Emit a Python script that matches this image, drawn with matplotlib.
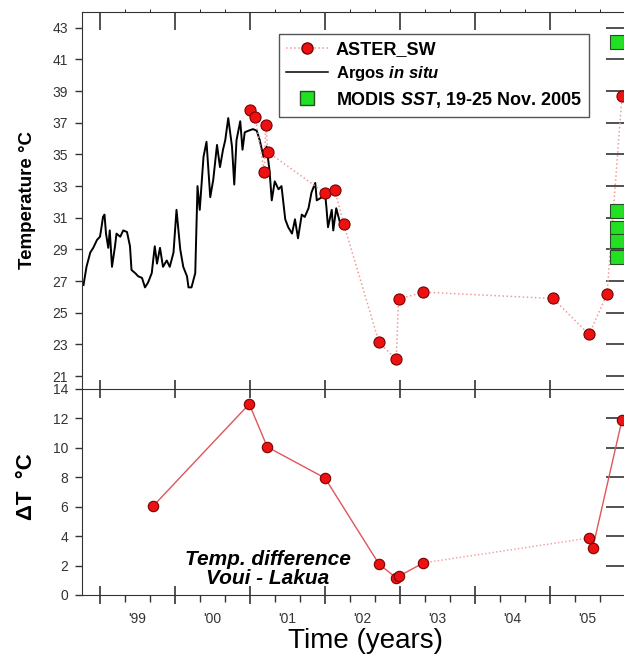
import matplotlib
matplotlib.use("Agg")
import matplotlib.pyplot as plt
from matplotlib.lines import Line2D
import numpy as np

plt.rcParams["font.family"] = ["Liberation Sans", "DejaVu Sans"]
plt.rcParams["mathtext.fontset"] = "custom"
plt.rcParams["mathtext.it"] = "Liberation Sans:italic:bold"
plt.rcParams["mathtext.rm"] = "Liberation Sans:bold"

# Argos in situ record (decimal year, deg C)
argos_t = [1998.78, 1998.82, 1998.87, 1998.91, 1998.96, 1999.00, 1999.02, 1999.04,
           1999.06, 1999.08, 1999.11, 1999.13, 1999.16, 1999.20, 1999.22, 1999.27,
           1999.31, 1999.36, 1999.40, 1999.42, 1999.47, 1999.51, 1999.56, 1999.60,
           1999.64, 1999.69, 1999.73, 1999.76, 1999.80, 1999.84, 1999.89, 1999.93,
           1999.98, 2000.02, 2000.07, 2000.11, 2000.16, 2000.18, 2000.22, 2000.27,
           2000.30, 2000.33, 2000.38, 2000.42, 2000.47, 2000.51, 2000.56, 2000.60,
           2000.64, 2000.67, 2000.71, 2000.76, 2000.79, 2000.82, 2000.87, 2000.90,
           2000.93, 2000.98, 2001.04, 2001.09, 2001.13, 2001.18, 2001.22, 2001.26,
           2001.29, 2001.33, 2001.38, 2001.42, 2001.47, 2001.51, 2001.56, 2001.60,
           2001.64, 2001.69, 2001.73, 2001.78, 2001.82, 2001.87, 2001.89, 2001.96,
           2002.00, 2002.02, 2002.04, 2002.09, 2002.11, 2002.15, 2002.18, 2002.20]
argos_temp = [26.75, 27.9, 28.8, 29.1, 29.6, 29.8, 30.4, 31.05,
              31.2, 30.0, 29.1, 30.2, 27.9, 29.2, 30.0, 29.8,
              30.2, 30.1, 29.2, 27.7, 27.5, 27.3, 27.2, 26.6,
              26.9, 27.5, 29.2, 28.1, 29.1, 27.9, 28.3, 27.9,
              28.8, 31.5, 29.0, 27.9, 27.3, 26.6, 26.6, 27.5,
              33.0, 31.5, 34.85, 35.8, 32.3, 33.4, 35.6, 34.2,
              35.3, 35.9, 37.3, 35.5, 33.1, 35.9, 37.1, 35.3,
              36.4, 36.5, 36.6, 36.5, 35.9, 34.85, 35.5, 34.0,
              32.1, 33.3, 32.8, 33.0, 30.9, 30.4, 30.0, 30.9,
              29.7, 31.2, 31.05, 31.6, 32.6, 33.2, 32.1, 32.3,
              32.6, 31.6, 30.4, 31.5, 30.2, 31.6, 31.05, 30.7]

# ASTER_SW surface temperature
aster_t = [2001.00, 2001.07, 2001.19, 2001.21, 2001.24, 2002.00, 2002.13, 2002.25,
           2002.72, 2002.95, 2002.98, 2003.31, 2005.04, 2005.52, 2005.76, 2005.96]
aster_temp = [37.8, 37.37, 33.9, 36.86, 35.15, 32.56, 32.75, 30.6,
              23.13, 22.05, 25.85, 26.3, 25.9, 23.63, 26.16, 38.7]

# MODIS SST, 19-25 Nov. 2005
modis_t = [2005.89, 2005.89, 2005.89, 2005.89, 2005.89]
modis_temp = [42.1, 31.4, 30.35, 29.5, 28.5]

# temperature difference Voui - Lakua
dt_t = [1999.71, 2000.99, 2001.23, 2002.00, 2002.72, 2002.95, 2002.99, 2003.31,
        2005.52, 2005.57, 2005.96]
dt_val = [6.05, 12.98, 10.06, 7.95, 2.1, 1.16, 1.29, 2.18, 3.87, 3.2, 11.9]

years = [1999, 2000, 2001, 2002, 2003, 2004, 2005, 2006]
year_labels = ["'99", "'00", "'01", "'02", "'03", "'04", "'05"]

RED = "#ee1111"
RED_EDGE = "#7a0000"
DOT = "#f29a9a"
LINE_RED = "#e0555a"
GREEN = "#22e022"
SPINE = "#333333"
TICKLAB = "#333333"

fig = plt.figure(figsize=(6.24, 6.56), dpi=100)
left, right = 82 / 624, 625 / 624
ax = fig.add_axes([left, 1 - 389 / 656, right - left, (389 - 12) / 656])
ax2 = fig.add_axes([left, 1 - 595 / 656, right - left, (595 - 389) / 656], sharex=ax)

xlim = (1998.76, 2006.0)

# ---- top panel
ax.plot(argos_t, argos_temp, color="black", lw=1.4, zorder=2)
ax.plot(aster_t, aster_temp, ls=":", color=DOT, lw=1.1, zorder=3)
ax.plot(aster_t, aster_temp, ls="none", marker="o", ms=8, mfc=RED, mec=RED_EDGE,
        mew=0.8, zorder=4)
ax.plot(modis_t, modis_temp, ls="none", marker="s", ms=10, mfc=GREEN, mec="#2a4a2a",
        mew=0.8, zorder=5)

ax.set_yticks(range(21, 44, 2))
ax.set_xticks(years)
ax.xaxis.set_ticks_position("top")
ax.tick_params(axis="x", which="major", direction="in", length=13, width=1.2,
               color=SPINE, labeltop=False, labelbottom=False)
ax.tick_params(axis="y", direction="out", length=5, width=1, color=SPINE,
               labelsize=10, labelcolor=TICKLAB, pad=5)
for s in ax.spines.values():
    s.set_color(SPINE)
ax.spines["bottom"].set_visible(False)

ry = ax.secondary_yaxis("right")
ry.set_yticks(range(21, 44, 2))
ry.tick_params(direction="in", length=14, width=1.2, color=SPINE, labelright=False)

handles = [
    Line2D([], [], ls=":", color=DOT, lw=1.1, marker="o", ms=8, mfc=RED, mec=RED_EDGE),
    Line2D([], [], color="black", lw=1.1),
    Line2D([], [], ls="none", marker="s", ms=10, mfc=GREEN, mec="#2a4a2a"),
]
labels = ["ASTER_SW", r"Argos $\mathit{in\ situ}$", r"MODIS $\mathit{SST}$, 19-25 Nov. 2005"]
leg = ax.legend(handles, labels, loc="upper left", bbox_to_anchor=(0.363, 0.942),
                borderaxespad=0, fancybox=False, framealpha=1, edgecolor="#555555",
                prop={"size": 13, "weight": "bold"}, borderpad=0.4,
                handlelength=2.3, handletextpad=0.45, labelspacing=0.35)
leg.get_frame().set_linewidth(1.0)
leg.get_texts()[1].set_fontsize(12)

# ---- bottom panel
ax2.plot(dt_t[:8], dt_val[:8], color=LINE_RED, lw=1.0, zorder=2)
ax2.plot(dt_t[7:9], dt_val[7:9], color=DOT, lw=1.0, ls=":", zorder=2)
ax2.plot(dt_t[8:], dt_val[8:], color=LINE_RED, lw=1.0, zorder=2)
ax2.plot(dt_t, dt_val, ls="none", marker="o", ms=7.5, mfc=RED, mec=RED_EDGE,
         mew=0.8, zorder=4)

ax2.set_yticks(range(0, 15, 2))
ax2.set_xticks(years)
ax2.set_xticks(np.arange(1998 + 2 / 3, 2006.01, 1 / 3), minor=True)
ax2.tick_params(axis="x", which="major", direction="inout", length=13, width=1.2,
                color=SPINE, top=True, bottom=True, labelbottom=False)
ax2.tick_params(axis="x", which="minor", direction="out", length=5, width=1,
                color=SPINE, top=False, bottom=True)
ax2.tick_params(axis="y", direction="out", length=5, width=1, color=SPINE,
                labelsize=10, labelcolor=TICKLAB, pad=5)
for s in ax2.spines.values():
    s.set_color(SPINE)

ry2 = ax2.secondary_yaxis("right")
ry2.set_yticks(range(2, 13, 2))
ry2.tick_params(direction="in", length=14, width=1.2, color=SPINE, labelright=False)

lx = ax2.secondary_xaxis("bottom")
lx.set_xticks([y + 0.5 for y in years[:-1]], labels=year_labels)
lx.tick_params(length=0, pad=12, labelsize=10, labelcolor=TICKLAB)
lx.spines["bottom"].set_visible(False)

# limits last, so tick setting cannot widen them
ax.set_xlim(*xlim)
ax.set_ylim(20.18, 44.0)
ax2.set_ylim(0, 14)

ax2.text(0.3425, 0.128, "Temp. difference\nVoui - Lakua", transform=ax2.transAxes,
         ha="center", va="center", fontsize=15, fontweight="bold", style="italic",
         linespacing=1.0)

# ---- axis titles
fig.text(27 / 624, 1 - 200 / 656, "Temperature °C", rotation=90, ha="center",
         va="center", fontsize=13.5, fontweight="bold")
fig.text(27 / 624, 1 - 487 / 656, "ΔT  °C", rotation=90, ha="center",
         va="center", fontsize=16, fontweight="bold")
fig.text(366 / 624, 1 - 648 / 656, "Time (years)", ha="center", va="baseline",
         fontsize=20)

fig.savefig("out.png", dpi=100)
